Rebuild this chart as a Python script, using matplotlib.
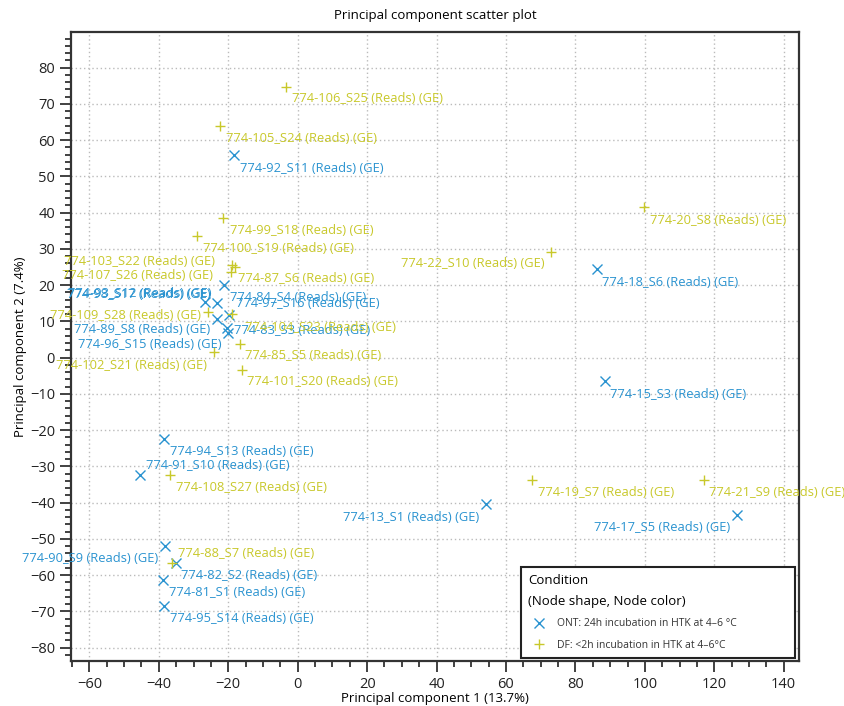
import matplotlib
matplotlib.use("Agg")
import matplotlib.pyplot as plt
from matplotlib.ticker import MultipleLocator

plt.rcParams["font.family"] = ["Open Sans", "DejaVu Sans"]

# ONT: 24h incubation in HTK at 4-6 °C
ont_names = [
    "774-92_S11", "774-18_S6", "774-15_S3", "774-17_S5", "774-13_S1",
    "774-94_S13", "774-91_S10", "774-90_S9", "774-82_S2", "774-81_S1",
    "774-95_S14", "774-84_S4", "774-98_S17", "774-93_S12", "774-97_S16",
    "774-89_S8", "774-83_S3", "774-96_S15",
]
ont_pc1 = [-18.3, 86.1, 88.4, 126.5, 54.2, -38.4, -45.4, -38.2, -35.1, -38.7,
           -38.5, -21.2, -23.2, -26.7, -19.9, -23.2, -20.4, -20.1]
ont_pc2 = [55.8, 24.4, -6.6, -43.3, -40.3, -22.4, -32.5, -51.9, -56.7, -61.3,
           -68.4, 20.0, 15.0, 15.3, 11.8, 10.6, 8.1, 6.7]

# DF: <2h incubation in HTK at 4-6°C
df_names = [
    "774-106_S25", "774-105_S24", "774-99_S18", "774-100_S19", "774-87_S6",
    "774-103_S22", "774-107_S26", "774-109_S28", "774-102_S21", "774-85_S5",
    "774-101_S20", "774-104_S23", "774-108_S27", "774-88_S7", "774-20_S8",
    "774-22_S10", "774-19_S7", "774-21_S9",
]
df_pc1 = [-3.4, -22.4, -21.5, -29.0, -18.9, -18.0, -19.2, -25.7, -24.1, -16.6,
          -16.0, -18.9, -36.7, -36.3, 99.8, 73.1, 67.4, 117.0]
df_pc2 = [74.7, 63.9, 38.5, 33.6, 25.5, 25.0, 23.6, 12.7, 1.5, 3.7,
          -3.5, 12.0, -32.5, -56.7, 41.5, 29.2, -33.7, -33.7]

# label placement relative to the marker: (dx px, dy px downwards, alignment)
ont_label_pos = [
    (6, 13, "left"), (5, 13, "left"), (5, 13, "left"), (-7, 13, "right"),
    (-7, 14, "right"), (6, 13, "left"), (6, -10, "left"), (-7, 13, "right"),
    (5, 12, "left"), (6, 13, "left"), (6, 13, "left"), (6, 12, "left"),
    (-7, -9, "right"), (7, -9, "right"), (7, -11, "left"), (-7, 10, "right"),
    (7, 2, "left"), (-6, 11, "right"),
]
df_label_pos = [
    (6, 12, "left"), (6, 13, "left"), (7, 13, "left"), (6, 13, "left"),
    (6, 13, "left"), (-20, -5, "right"), (-18, 4, "right"), (-7, 4, "right"),
    (-7, 13, "right"), (5, 11, "left"), (5, 11, "left"), (13, 13, "left"),
    (6, 12, "left"), (6, -10, "left"), (6, 13, "left"), (-7, 12, "right"),
    (6, 13, "left"), (5, 13, "left"),
]

blue = "#2a93d0"
yellow = "#c8c82a"

fig = plt.figure(figsize=(8.44, 7.06), dpi=100)
ax = fig.add_axes([71 / 844, 1 - 661 / 706, 728 / 844, 629 / 706])

ax.plot(ont_pc1, ont_pc2, ls="none", marker="x", ms=7.2, mew=1.0, color=blue,
        label="ONT: 24h incubation in HTK at 4\u20136 \u00b0C", zorder=3)
ax.plot(df_pc1, df_pc2, ls="none", marker="+", ms=6.5, mew=1.0, color=yellow,
        label="DF: <2h incubation in HTK at 4\u20136\u00b0C", zorder=3)

for names, xs, ys, pos, col in [(ont_names, ont_pc1, ont_pc2, ont_label_pos, blue),
                                (df_names, df_pc1, df_pc2, df_label_pos, yellow)]:
    for n, x, y, (dx, dy, ha) in zip(names, xs, ys, pos):
        ax.annotate(n + " (Reads) (GE)", (x, y), xytext=(dx, -dy),
                    textcoords="offset pixels", ha=ha, va="center",
                    fontsize=9.3, color=col, annotation_clip=False, zorder=4)

ax.set_xlim(-65.3, 144.4)
ax.set_ylim(-83.7, 89.8)
ax.xaxis.set_major_locator(MultipleLocator(20))
ax.xaxis.set_minor_locator(MultipleLocator(5))
ax.yaxis.set_major_locator(MultipleLocator(10))
ax.yaxis.set_minor_locator(MultipleLocator(2))
ax.tick_params(which="major", length=8, width=1.3, color="#333333",
               labelsize=10.5, labelcolor="#222222")
ax.tick_params(which="minor", length=4, width=1.3, color="#333333")
ax.grid(True, which="major", color="#bbbbbb", lw=1, ls=(0, (1, 2)))
for s in ax.spines.values():
    s.set_linewidth(1.6)
    s.set_color("#333333")

ax.set_title("Principal component scatter plot", fontsize=9.5, pad=9)
ax.set_xlabel("Principal component 1 (13.7%)", fontsize=9.5, labelpad=0)
ax.set_ylabel("Principal component 2 (7.4%)", fontsize=9.5, labelpad=2)

leg = ax.legend(title="Condition\n(Node shape, Node color)", alignment="left",
                loc="lower left", bbox_to_anchor=(0.618, 0.005, 0.376, 0.1),
                mode="expand", borderaxespad=0, fontsize=7.5,
                title_fontproperties={"size": 9.5}, fancybox=False,
                framealpha=1, edgecolor="#222222", labelspacing=1.0,
                handletextpad=0.8, borderpad=0.7)
leg.get_title().set_linespacing(1.75)
leg.get_frame().set_linewidth(1.5)
for t in leg.get_texts():
    t.set_color("#333333")

fig.savefig("out.png", dpi=100)
